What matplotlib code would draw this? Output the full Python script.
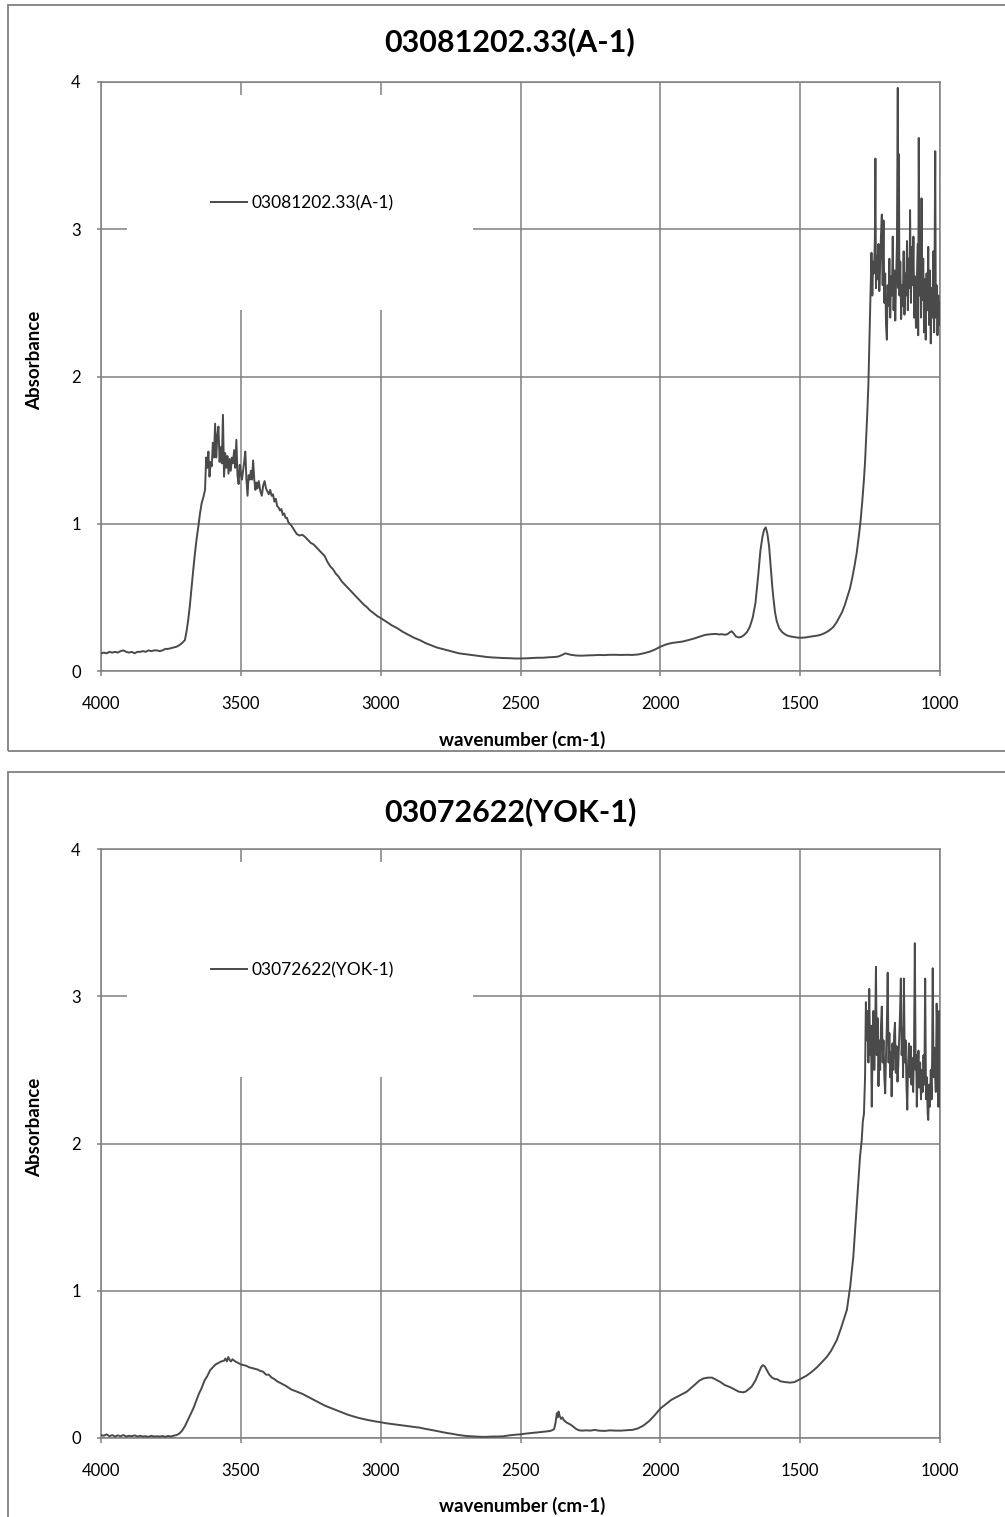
import matplotlib
matplotlib.use("Agg")
import matplotlib.pyplot as plt
from matplotlib.patches import Rectangle

plt.rcParams['font.family'] = ['Lato', 'DejaVu Sans']

# ---------------- data ----------------
titles = ["03081202.33(A-1)", "03072622(YOK-1)"]
x_label = "wavenumber (cm-1)"
y_label = "Absorbance"
x_ticks = [4000, 3500, 3000, 2500, 2000, 1500, 1000]
y_ticks = [0, 1, 2, 3, 4]

wn1 = [4000, 3990, 3980, 3970, 3960, 3950, 3940, 3930, 3920, 3910, 3900, 3890, 3880, 3870, 3860, 3850,
       3840, 3830, 3820, 3810, 3800, 3790, 3780, 3770, 3760, 3750, 3740, 3730, 3720, 3710, 3700, 3694,
       3688, 3682, 3676, 3670, 3664, 3658, 3652, 3646, 3640, 3634, 3628, 3624, 3620, 3616, 3612, 3608,
       3604, 3600, 3596, 3592, 3588, 3584, 3580, 3576, 3572, 3568, 3564, 3560, 3556, 3552, 3548, 3544,
       3540, 3536, 3532, 3528, 3524, 3520, 3516, 3512, 3508, 3504, 3500, 3496, 3492, 3488, 3484, 3480,
       3476, 3472, 3468, 3464, 3460, 3456, 3452, 3448, 3444, 3440, 3436, 3430, 3425, 3420, 3415, 3410,
       3405, 3400, 3395, 3390, 3385, 3380, 3375, 3370, 3365, 3360, 3355, 3350, 3345, 3340, 3335, 3330,
       3325, 3320, 3310, 3300, 3290, 3280, 3270, 3260, 3250, 3240, 3230, 3220, 3210, 3200, 3190, 3180,
       3170, 3160, 3150, 3140, 3130, 3120, 3110, 3100, 3090, 3080, 3070, 3060, 3050, 3040, 3030, 3020,
       3010, 3000, 2980, 2960, 2940, 2920, 2900, 2880, 2860, 2840, 2820, 2800, 2780, 2760, 2740, 2720,
       2700, 2680, 2660, 2640, 2620, 2600, 2580, 2560, 2540, 2520, 2500, 2480, 2460, 2440, 2420, 2400,
       2380, 2365, 2350, 2340, 2330, 2320, 2300, 2280, 2260, 2240, 2220, 2200, 2180, 2160, 2140, 2120,
       2100, 2080, 2060, 2040, 2020, 2000, 1980, 1960, 1940, 1920, 1900, 1880, 1860, 1840, 1820, 1800,
       1790, 1780, 1770, 1760, 1750, 1745, 1738, 1730, 1720, 1710, 1700, 1690, 1680, 1670, 1660, 1650,
       1642, 1635, 1629, 1623, 1617, 1611, 1605, 1600, 1596, 1590, 1584, 1575, 1565, 1555, 1545, 1535,
       1520, 1505, 1494, 1480, 1465, 1450, 1440, 1428, 1415, 1400, 1390, 1381, 1370, 1360, 1350, 1340,
       1330, 1322, 1314, 1306, 1298, 1290, 1284, 1278, 1272, 1268, 1264, 1260, 1256, 1253, 1250,
       1248, 1245, 1242, 1239, 1236, 1233, 1231, 1229, 1226, 1223, 1220, 1217, 1214, 1211, 1208, 1205,
       1202, 1199, 1196, 1193, 1190, 1187, 1184, 1181, 1178, 1175, 1172, 1169, 1166, 1163, 1160, 1157,
       1154, 1151, 1149, 1147, 1145, 1142, 1139, 1136, 1133, 1130, 1127, 1124, 1121, 1118, 1115, 1112,
       1109, 1107, 1104, 1101, 1098, 1095, 1092, 1089, 1086, 1083, 1080, 1078, 1076, 1073, 1070, 1068,
       1066, 1063, 1060, 1057, 1054, 1051, 1048, 1045, 1042, 1039, 1036, 1033, 1030, 1027, 1024, 1021,
       1019, 1017, 1015, 1012, 1009, 1006, 1003, 1000]
abs1 = [0.12, 0.125, 0.12, 0.13, 0.125, 0.13, 0.125, 0.135, 0.14, 0.13, 0.125, 0.13, 0.12, 0.13, 0.13, 0.135,
        0.13, 0.14, 0.135, 0.14, 0.14, 0.135, 0.14, 0.15, 0.15, 0.155, 0.16, 0.165, 0.175, 0.19, 0.21, 0.27,
        0.35, 0.45, 0.57, 0.69, 0.80, 0.90, 0.98, 1.07, 1.14, 1.18, 1.23, 1.45, 1.38, 1.49, 1.32, 1.42,
        1.39, 1.55, 1.45, 1.68, 1.45, 1.60, 1.66, 1.42, 1.52, 1.41, 1.74, 1.32, 1.48, 1.38, 1.46, 1.34,
        1.44, 1.36, 1.45, 1.41, 1.50, 1.38, 1.57, 1.33, 1.27, 1.40, 1.34, 1.30, 1.36, 1.42, 1.49, 1.30,
        1.19, 1.33, 1.30, 1.36, 1.30, 1.43, 1.30, 1.23, 1.28, 1.24, 1.29, 1.22, 1.19, 1.26, 1.29, 1.24,
        1.22, 1.20, 1.23, 1.19, 1.20, 1.15, 1.17, 1.12, 1.11, 1.09, 1.10, 1.06, 1.07, 1.04, 1.04, 1.01,
        1.00, 0.99, 0.96, 0.93, 0.92, 0.925, 0.91, 0.89, 0.87, 0.86, 0.84, 0.82, 0.80, 0.78, 0.74, 0.71,
        0.69, 0.66, 0.64, 0.61, 0.59, 0.57, 0.55, 0.53, 0.51, 0.49, 0.47, 0.45, 0.435, 0.415, 0.40, 0.385,
        0.37, 0.36, 0.335, 0.31, 0.29, 0.265, 0.245, 0.225, 0.21, 0.19, 0.175, 0.16, 0.15, 0.14, 0.13, 0.12,
        0.115, 0.11, 0.105, 0.10, 0.095, 0.092, 0.09, 0.088, 0.087, 0.085, 0.085, 0.086, 0.088, 0.09, 0.09, 0.093,
        0.095, 0.098, 0.11, 0.12, 0.115, 0.11, 0.105, 0.104, 0.106, 0.107, 0.109, 0.108, 0.11, 0.11, 0.109, 0.11,
        0.109, 0.112, 0.12, 0.13, 0.145, 0.165, 0.18, 0.19, 0.195, 0.20, 0.21, 0.22, 0.233, 0.245, 0.25, 0.252,
        0.248, 0.25, 0.246, 0.25, 0.265, 0.27, 0.255, 0.235, 0.228, 0.232, 0.245, 0.265, 0.30, 0.36, 0.46, 0.65,
        0.82, 0.91, 0.96, 0.975, 0.93, 0.845, 0.70, 0.58, 0.50, 0.40, 0.34, 0.29, 0.265, 0.25, 0.24, 0.235,
        0.23, 0.226, 0.226, 0.228, 0.233, 0.237, 0.24, 0.245, 0.255, 0.27, 0.285, 0.30, 0.33, 0.365, 0.40, 0.45,
        0.51, 0.56, 0.63, 0.71, 0.80, 0.92, 1.02, 1.15, 1.30, 1.42, 1.58, 1.75, 1.95, 2.20, 2.45,
        2.62, 2.84, 2.55, 2.78, 2.70, 2.92, 3.48, 2.60, 2.82, 2.66, 2.90, 2.58, 2.75, 2.96, 3.10, 2.62,
        3.06, 2.50, 2.70, 2.35, 2.25, 2.62, 2.48, 2.80, 2.40, 2.68, 2.55, 2.95, 2.45, 2.72, 2.38, 2.66,
        2.90, 3.96, 2.60, 3.51, 2.55, 2.78, 2.39, 2.62, 2.48, 2.85, 2.42, 2.70, 2.55, 2.92, 2.45, 2.80,
        2.60, 3.13, 2.50, 2.88, 2.62, 2.95, 2.40, 2.68, 2.33, 2.60, 2.90, 2.28, 3.62, 2.55, 2.98, 2.40,
        3.21, 2.52, 2.80, 2.30, 2.66, 2.25, 2.70, 2.45, 2.88, 2.35, 2.72, 2.225, 2.60, 2.40, 2.85, 2.30,
        2.95, 3.53, 2.40, 2.62, 2.28, 2.55, 2.35, 2.50]

wn2 = [4000, 3990, 3980, 3970, 3960, 3950, 3940, 3930, 3920, 3910, 3900, 3890, 3880, 3870, 3860, 3850,
       3840, 3830, 3820, 3810, 3800, 3790, 3780, 3770, 3760, 3750, 3740, 3730, 3720, 3710, 3700, 3690,
       3680, 3670, 3660, 3650, 3640, 3630, 3620, 3610, 3600, 3590, 3580, 3570, 3560, 3555, 3550, 3545,
       3540, 3535, 3530, 3520, 3510, 3500, 3490, 3480, 3470, 3460, 3450, 3440, 3430, 3420, 3410, 3400,
       3390, 3380, 3370, 3360, 3350, 3340, 3320, 3300, 3280, 3260, 3240, 3220, 3200, 3180, 3160, 3140,
       3120, 3100, 3080, 3060, 3040, 3020, 3000, 2980, 2960, 2940, 2920, 2900, 2880, 2860, 2840, 2820,
       2800, 2780, 2760, 2740, 2720, 2700, 2680, 2660, 2640, 2620, 2600, 2580, 2560, 2540, 2520, 2500,
       2480, 2460, 2440, 2420, 2400, 2390, 2380, 2375, 2370, 2367, 2364, 2360, 2355, 2350, 2345, 2335,
       2320, 2310, 2300, 2290, 2280, 2265, 2250, 2235, 2220, 2200, 2180, 2160, 2140, 2120, 2100, 2080,
       2060, 2040, 2020, 2000, 1980, 1960, 1940, 1920, 1905, 1890, 1875, 1860, 1845, 1830, 1815, 1800,
       1785, 1770, 1750, 1735, 1720, 1705, 1695, 1685, 1673, 1660, 1649, 1640, 1633, 1626, 1619, 1610,
       1600, 1590, 1583, 1570, 1555, 1536, 1520, 1500, 1480, 1465, 1452, 1440, 1425, 1405, 1390, 1380,
       1369, 1355, 1345, 1333, 1321, 1310, 1298, 1290, 1286, 1280, 1276, 1272, 1268,
       1265, 1262, 1259, 1256, 1253, 1250, 1247, 1244, 1241, 1238, 1235, 1232, 1229, 1226, 1223, 1220,
       1217, 1214, 1211, 1208, 1205, 1202, 1199, 1196, 1193, 1190, 1187, 1184, 1181, 1178, 1175, 1173,
       1170, 1167, 1164, 1161, 1158, 1155, 1152, 1149, 1146, 1143, 1140, 1137, 1134, 1132, 1129, 1126,
       1123, 1120, 1117, 1114, 1111, 1108, 1105, 1102, 1099, 1096, 1093, 1090, 1087, 1085, 1083, 1080,
       1077, 1074, 1071, 1068, 1065, 1062, 1059, 1056, 1053, 1050, 1047, 1044, 1042, 1039, 1036, 1033,
       1030, 1028, 1026, 1023, 1020, 1018, 1015, 1012, 1009, 1006, 1003, 1000]
abs2 = [0.02, 0.015, 0.025, 0.012, 0.02, 0.01, 0.018, 0.012, 0.02, 0.01, 0.015, 0.012, 0.018, 0.01, 0.015, 0.01,
        0.012, 0.008, 0.015, 0.01, 0.012, 0.01, 0.013, 0.008, 0.014, 0.01, 0.016, 0.02, 0.03, 0.05, 0.08, 0.12,
        0.16, 0.20, 0.25, 0.30, 0.34, 0.39, 0.42, 0.46, 0.48, 0.50, 0.51, 0.52, 0.525, 0.54, 0.52, 0.55,
        0.53, 0.52, 0.535, 0.52, 0.51, 0.50, 0.495, 0.49, 0.48, 0.475, 0.47, 0.465, 0.455, 0.45, 0.43, 0.43,
        0.41, 0.40, 0.385, 0.375, 0.365, 0.355, 0.33, 0.315, 0.30, 0.28, 0.26, 0.24, 0.22, 0.205, 0.19, 0.175,
        0.16, 0.148, 0.137, 0.128, 0.12, 0.113, 0.107, 0.10, 0.095, 0.09, 0.085, 0.08, 0.075, 0.07, 0.062, 0.055,
        0.048, 0.04, 0.033, 0.027, 0.02, 0.015, 0.012, 0.01, 0.008, 0.008, 0.01, 0.01, 0.012, 0.018, 0.022, 0.025,
        0.03, 0.034, 0.038, 0.042, 0.046, 0.05, 0.06, 0.10, 0.168, 0.14, 0.18, 0.15, 0.13, 0.14, 0.12, 0.105,
        0.09, 0.075, 0.06, 0.052, 0.05, 0.052, 0.05, 0.055, 0.05, 0.048, 0.052, 0.05, 0.05, 0.053, 0.055, 0.065,
        0.085, 0.115, 0.155, 0.20, 0.23, 0.26, 0.28, 0.30, 0.315, 0.34, 0.365, 0.39, 0.405, 0.41, 0.41, 0.395,
        0.38, 0.36, 0.345, 0.33, 0.315, 0.31, 0.315, 0.33, 0.35, 0.39, 0.44, 0.48, 0.495, 0.485, 0.46, 0.43,
        0.41, 0.40, 0.40, 0.385, 0.38, 0.376, 0.38, 0.40, 0.42, 0.44, 0.46, 0.48, 0.51, 0.55, 0.59, 0.625,
        0.665, 0.74, 0.80, 0.87, 1.03, 1.23, 1.57, 1.80, 1.91, 2.02, 2.15, 2.20, 2.45,
        2.96, 2.70, 2.90, 2.55, 3.05, 2.60, 2.80, 2.25, 2.65, 2.90, 2.50, 2.75, 3.20, 2.60, 2.85, 2.39,
        2.70, 2.50, 2.80, 2.93, 2.55, 2.70, 2.45, 2.34, 2.60, 2.80, 3.16, 2.55, 2.75, 2.45, 2.62, 2.32,
        2.68, 2.50, 2.74, 2.82, 2.48, 2.66, 2.42, 2.54, 2.70, 2.88, 3.12, 2.60, 2.78, 2.45, 3.12, 2.55,
        2.70, 2.40, 2.23, 2.55, 2.68, 2.45, 2.66, 2.40, 2.58, 2.35, 2.62, 3.36, 2.50, 2.60, 2.25, 2.48,
        2.63, 2.38, 2.55, 2.30, 2.50, 2.35, 2.60, 2.40, 3.12, 2.30, 2.45, 2.20, 2.16, 2.40, 2.25, 2.50,
        2.30, 2.60, 3.19, 2.45, 2.65, 2.50, 2.35, 2.95, 2.70, 2.25, 2.90, 2.25]

series = [(wn1, abs1), (wn2, abs2)]

# ---------------- layout ----------------
W, H = 1005, 1517
fig = plt.figure(figsize=(W / 100, H / 100), dpi=100)
fig.patch.set_facecolor("white")

GRID = "#808080"
LINE = "#4a4a4a"

def fx(px):
    return px / W

def fy(py):
    return 1 - py / H

# outer chart frames (cropped at the right / bottom like the reference)
frames = [(8, 5, 751), (8, 772, 1560)]
for (x0, y0, y1) in frames:
    fig.patches.append(Rectangle((fx(x0), fy(y1)), fx(1060 - x0), fy(y0) - fy(y1),
                                 transform=fig.transFigure, fill=False,
                                 edgecolor=GRID, linewidth=1.3, zorder=0))

panel_tops = [82, 849]
title_y = [42, 812]
ylabel_y = [360, 1127]
xlabel_y = [740, 1506]

for i, (wn, ab) in enumerate(series):
    top = panel_tops[i]
    bottom = top + 589
    ax = fig.add_axes([fx(101), fy(bottom), fx(940 - 101), fy(top) - fy(bottom)])
    ax.set_facecolor("white")
    ax.plot(wn, ab, color=LINE, linewidth=1.4, zorder=3, label=titles[i])
    ax.set_xlim(4000, 1000)
    ax.set_ylim(0, 4)
    ax.set_xticks(x_ticks)
    ax.set_yticks(y_ticks)
    ax.set_axisbelow(True)
    ax.grid(True, color=GRID, linewidth=1.1)
    for s in ax.spines.values():
        s.set_color(GRID)
        s.set_linewidth(1.1)
    ax.tick_params(axis="both", direction="out", width=1.1, color=GRID,
                   labelsize=12, labelcolor="black")
    ax.tick_params(axis="x", length=3.6, pad=14.5)
    ax.tick_params(axis="y", length=3, pad=11.5)

    # white legend area (hides grid lines like the reference)
    ax.add_patch(Rectangle((0.031, 0.613), 0.412, 0.365, transform=ax.transAxes,
                           facecolor="white", edgecolor="none", zorder=1))
    ax.legend(loc="center left", bbox_to_anchor=(0.131, 0.7946), frameon=False,
              fontsize=12.5, handlelength=2.1, handletextpad=0.25, borderpad=0,
              borderaxespad=0, handleheight=0.7)

    fig.text(fx(510), fy(title_y[i]), titles[i], ha="center", va="center",
             fontsize=22, fontweight="bold")
    fig.text(fx(35), fy(ylabel_y[i]), y_label, ha="center", va="center",
             rotation=90, fontsize=13.5, fontweight="bold")
    fig.text(fx(522), fy(xlabel_y[i]), x_label, ha="center", va="center",
             fontsize=13.5, fontweight="bold")

fig.savefig("out.png", dpi=100)
